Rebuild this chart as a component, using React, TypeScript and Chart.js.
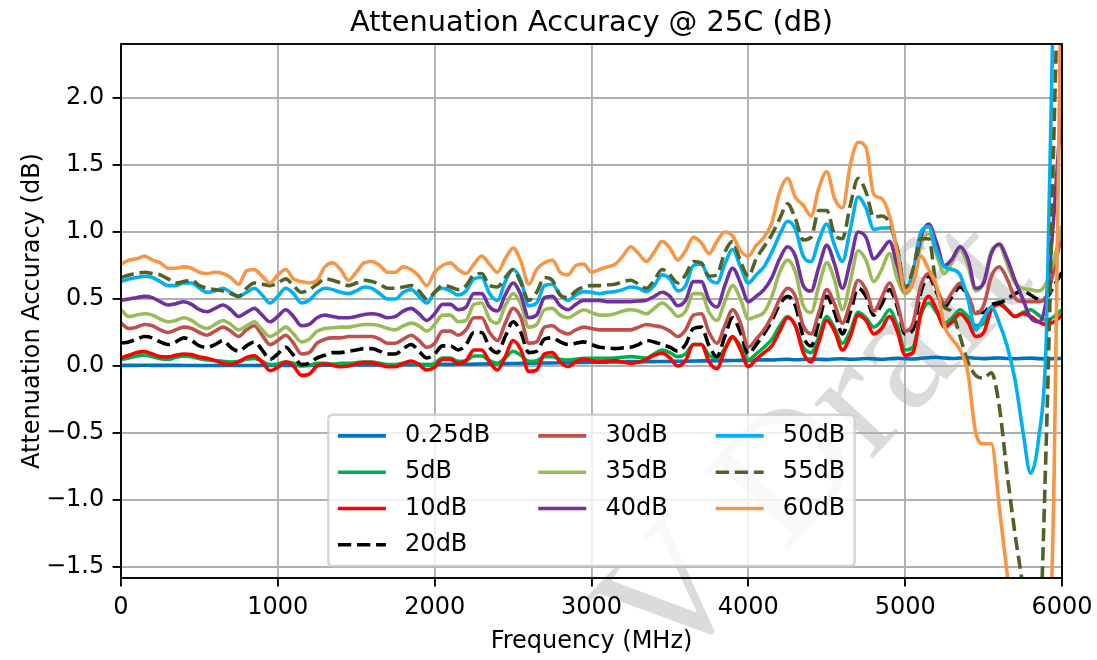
import React, { useEffect, useRef } from 'react';
import { Chart, registerables } from 'chart.js';

Chart.register(...registerables);

const frequencyMHz = [
  0, 50, 100, 150, 200, 250, 300, 350, 400, 450,
  500, 550, 600, 650, 700, 750, 800, 850, 900, 950,
  1000, 1050, 1100, 1150, 1200, 1250, 1300, 1350, 1400, 1450,
  1500, 1550, 1600, 1650, 1700, 1750, 1800, 1850, 1900, 1950,
  2000, 2050, 2100, 2150, 2200, 2250, 2300, 2350, 2400, 2450,
  2500, 2550, 2600, 2650, 2700, 2750, 2800, 2850, 2900, 2950,
  3000, 3050, 3100, 3150, 3200, 3250, 3300, 3350, 3400, 3450,
  3500, 3550, 3600, 3650, 3700, 3750, 3800, 3850, 3900, 3950,
  4000, 4050, 4100, 4150, 4200, 4250, 4300, 4350, 4400, 4450,
  4500, 4550, 4600, 4650, 4700, 4750, 4800, 4850, 4900, 4950,
  5000, 5050, 5100, 5150, 5200, 5250, 5300, 5350, 5400, 5450,
  5500, 5550, 5600, 5650, 5700, 5750, 5800, 5850, 5900, 5950,
  6000,
];

const acc_0p25dB = [
  0.005, 0.005, 0.005, 0.006, 0.005, 0.005, 0.005, 0.005, 0.004, 0.004,
  0.004, 0.004, 0.004, 0.004, 0.004, 0.004, 0.004, 0.004, 0.005, 0.005,
  0.005, 0.005, 0.005, 0.005, 0.005, 0.006, 0.006, 0.006, 0.007, 0.007,
  0.007, 0.008, 0.008, 0.008, 0.009, 0.009, 0.01, 0.01, 0.01, 0.011,
  0.011, 0.012, 0.012, 0.013, 0.013, 0.014, 0.015, 0.016, 0.017, 0.018,
  0.019, 0.02, 0.021, 0.022, 0.022, 0.023, 0.024, 0.025, 0.026, 0.027,
  0.028, 0.028, 0.029, 0.03, 0.03, 0.031, 0.031, 0.032, 0.033, 0.034,
  0.034, 0.035, 0.036, 0.037, 0.038, 0.038, 0.039, 0.04, 0.041, 0.042,
  0.042, 0.044, 0.046, 0.045, 0.048, 0.05, 0.047, 0.049, 0.052, 0.05,
  0.048, 0.052, 0.054, 0.05, 0.052, 0.056, 0.053, 0.05, 0.054, 0.057,
  0.055, 0.052, 0.058, 0.062, 0.065, 0.06, 0.056, 0.06, 0.063, 0.058,
  0.055, 0.058, 0.06, 0.056, 0.054, 0.057, 0.059, 0.055, 0.053, 0.055,
  0.056,
];

const acc_5dB = [
  0.05, 0.06, 0.075, 0.08, 0.07, 0.055, 0.05, 0.065, 0.075, 0.07,
  0.055, 0.045, 0.04, 0.035, 0.03, 0.035, 0.05, 0.057, 0.035, 0.01,
  0.015, 0.03, 0.02, 0.0, 0.005, 0.02, 0.02, 0.015, 0.02, 0.02,
  0.025, 0.03, 0.03, 0.02, 0.01, 0.01, 0.02, 0.03, 0.015, 0.005,
  0.02, 0.06, 0.06, 0.035, 0.04, 0.075, 0.075, 0.04, 0.02, 0.06,
  0.11, 0.08, 0.035, 0.04, 0.07, 0.07, 0.05, 0.045, 0.05, 0.057,
  0.057, 0.057, 0.057, 0.06, 0.065, 0.07, 0.065, 0.06, 0.09, 0.12,
  0.1, 0.07, 0.09, 0.16, 0.16, 0.08, 0.06, 0.13, 0.21, 0.15,
  0.045, 0.09, 0.14, 0.2, 0.3, 0.37, 0.3, 0.14, 0.1, 0.22,
  0.37, 0.28, 0.17, 0.26, 0.4, 0.36, 0.29, 0.34, 0.42, 0.3,
  0.12, 0.14, 0.38, 0.47, 0.4, 0.32, 0.36, 0.42, 0.37, 0.3,
  0.32, 0.44, 0.48, 0.42, 0.37, 0.4, 0.42, 0.38, 0.34, 0.37,
  0.42,
];

const acc_10dB = [
  0.06, 0.08, 0.1, 0.107, 0.09, 0.07, 0.068, 0.08, 0.09, 0.085,
  0.068, 0.057, 0.04, 0.02, 0.01, 0.03, 0.065, 0.077, 0.03, -0.035,
  -0.01, 0.03, 0.0, -0.07, -0.06, 0.0, 0.015, 0.005, -0.005, 0.0,
  0.015, 0.027, 0.025, 0.01, -0.005, -0.005, 0.02, 0.037, 0.01, -0.03,
  -0.01, 0.05, 0.05, 0.02, 0.04, 0.12, 0.12, 0.03, -0.03, 0.07,
  0.19, 0.12, -0.04, -0.03, 0.09, 0.1, 0.03, -0.005, 0.03, 0.05,
  0.04, 0.03, 0.035, 0.04, 0.03, 0.02, 0.03, 0.05, 0.08, 0.095,
  0.06, 0.0, 0.04, 0.16, 0.16, 0.03, -0.02, 0.12, 0.22, 0.12,
  -0.005, 0.05, 0.1, 0.15, 0.26, 0.36, 0.3, 0.1, 0.03, 0.18,
  0.34, 0.26, 0.12, 0.22, 0.38, 0.34, 0.24, 0.28, 0.37, 0.26,
  0.08, 0.1, 0.4, 0.52, 0.42, 0.29, 0.33, 0.39, 0.33, 0.22,
  0.25, 0.42, 0.46, 0.42, 0.37, 0.39, 0.37, 0.33, 0.31, 0.33,
  0.38,
];

const acc_20dB = [
  0.17, 0.18, 0.2, 0.22, 0.21, 0.18, 0.16, 0.18, 0.21, 0.19,
  0.15, 0.14, 0.16, 0.19, 0.14, 0.11, 0.15, 0.18, 0.12, 0.05,
  0.09, 0.14, 0.08, 0.01, 0.02, 0.06, 0.08, 0.1, 0.1, 0.11,
  0.12, 0.13, 0.13, 0.11, 0.09, 0.09, 0.13, 0.16, 0.11, 0.06,
  0.09, 0.15, 0.15, 0.12, 0.16, 0.25, 0.25, 0.14, 0.1, 0.22,
  0.33, 0.25, 0.1, 0.11, 0.2, 0.21, 0.18, 0.16, 0.17, 0.18,
  0.16, 0.14, 0.135, 0.13, 0.135, 0.14, 0.16, 0.19, 0.18, 0.16,
  0.14, 0.11, 0.16, 0.28, 0.29, 0.15, 0.07, 0.22, 0.36, 0.25,
  0.09, 0.16, 0.24, 0.34, 0.46, 0.52, 0.45, 0.22, 0.15, 0.33,
  0.52, 0.4, 0.24, 0.4, 0.58, 0.52, 0.38, 0.46, 0.57, 0.44,
  0.24, 0.27, 0.55, 0.67, 0.55, 0.44, 0.52, 0.59, 0.52, 0.4,
  0.4, 0.46, 0.47, 0.5, 0.54, 0.56, 0.53, 0.5, 0.51, 0.6,
  0.7,
];

const acc_30dB = [
  0.32, 0.28, 0.29, 0.31, 0.3, 0.27, 0.25, 0.27, 0.29, 0.28,
  0.25, 0.23, 0.26, 0.29, 0.26, 0.22, 0.27, 0.3, 0.23, 0.16,
  0.19, 0.23, 0.17, 0.09, 0.1, 0.17, 0.2, 0.21, 0.21, 0.22,
  0.22, 0.22, 0.22, 0.2, 0.17, 0.17, 0.2, 0.23, 0.19, 0.14,
  0.17, 0.26, 0.26, 0.23, 0.27, 0.36, 0.36, 0.25, 0.19, 0.32,
  0.43, 0.36, 0.17, 0.18, 0.29, 0.3, 0.26, 0.24, 0.27, 0.29,
  0.28, 0.27, 0.27, 0.27, 0.27, 0.27, 0.29, 0.31, 0.3, 0.29,
  0.26, 0.22, 0.27, 0.38, 0.39, 0.25, 0.17, 0.3, 0.42, 0.32,
  0.14, 0.2, 0.27, 0.37, 0.5, 0.58, 0.52, 0.3, 0.24, 0.4,
  0.57, 0.46, 0.32, 0.47, 0.64, 0.57, 0.41, 0.51, 0.62, 0.47,
  0.26, 0.32, 0.6, 0.69, 0.58, 0.47, 0.55, 0.62, 0.53, 0.39,
  0.45, 0.67, 0.74, 0.65, 0.51, 0.48, 0.48, 0.48, 0.52, 0.72,
  1.0,
];

const acc_35dB = [
  0.42, 0.37, 0.38, 0.39, 0.38, 0.35, 0.33, 0.34, 0.36, 0.34,
  0.3, 0.28, 0.31, 0.34, 0.31, 0.27, 0.3, 0.33, 0.27, 0.22,
  0.25, 0.29, 0.24, 0.18, 0.2, 0.26, 0.28, 0.285, 0.29, 0.29,
  0.3, 0.31, 0.31, 0.3, 0.28, 0.27, 0.3, 0.32, 0.3, 0.26,
  0.31, 0.38, 0.38, 0.33, 0.34, 0.46, 0.47, 0.35, 0.32, 0.45,
  0.54, 0.46, 0.29, 0.31, 0.42, 0.43, 0.38, 0.36, 0.39, 0.42,
  0.4, 0.38, 0.38, 0.39, 0.41, 0.42, 0.41, 0.39, 0.43, 0.47,
  0.43, 0.37, 0.41, 0.54, 0.54, 0.4, 0.34, 0.48, 0.6, 0.5,
  0.35, 0.37, 0.4, 0.52, 0.7, 0.79, 0.7, 0.45, 0.4, 0.6,
  0.77, 0.64, 0.42, 0.63, 0.86, 0.79, 0.63, 0.72, 0.84, 0.65,
  0.54, 0.62, 0.9, 0.99, 0.83, 0.69, 0.78, 0.87, 0.75, 0.56,
  0.62, 0.86, 0.9, 0.76, 0.62, 0.58, 0.57, 0.56, 0.62, 0.8,
  1.05,
];

const acc_40dB = [
  0.49, 0.5, 0.51, 0.52, 0.51, 0.48, 0.455, 0.465, 0.48, 0.46,
  0.42, 0.405, 0.43, 0.455, 0.42, 0.37, 0.4, 0.43, 0.38, 0.33,
  0.37, 0.42, 0.37, 0.3, 0.31, 0.36, 0.38, 0.37, 0.36, 0.36,
  0.37, 0.385, 0.39, 0.38, 0.36, 0.37, 0.41, 0.43, 0.39, 0.34,
  0.39, 0.46, 0.46, 0.42, 0.44, 0.54, 0.54, 0.44, 0.41, 0.53,
  0.62, 0.53, 0.36, 0.38, 0.51, 0.52, 0.45, 0.42, 0.46, 0.49,
  0.49, 0.49, 0.48, 0.48, 0.48, 0.48, 0.485, 0.49, 0.52, 0.55,
  0.52, 0.45, 0.49, 0.63, 0.63, 0.49, 0.44, 0.6, 0.73, 0.62,
  0.48, 0.52, 0.57, 0.66, 0.8, 0.89, 0.82, 0.6, 0.56, 0.74,
  0.9, 0.76, 0.58, 0.78, 1.0, 0.96, 0.8, 0.86, 0.93, 0.75,
  0.56, 0.66, 0.96, 1.06, 0.92, 0.75, 0.8, 0.89, 0.8, 0.58,
  0.62, 0.84, 0.91, 0.8, 0.64, 0.5, 0.36, 0.33, 0.5, 1.15,
  2.0,
];

const acc_50dB = [
  0.63, 0.65, 0.66, 0.67, 0.66, 0.63, 0.6, 0.6, 0.62, 0.62,
  0.58, 0.55, 0.56, 0.58, 0.55, 0.52, 0.55, 0.58, 0.53, 0.47,
  0.52, 0.58, 0.54, 0.47, 0.49, 0.55, 0.58, 0.57, 0.55, 0.54,
  0.56, 0.59, 0.58, 0.54, 0.5, 0.5, 0.55, 0.57, 0.52, 0.47,
  0.55, 0.58, 0.56, 0.53, 0.56, 0.65, 0.66, 0.54, 0.49, 0.63,
  0.72, 0.64, 0.45, 0.47, 0.6, 0.61, 0.53, 0.49, 0.53, 0.555,
  0.55, 0.54, 0.55, 0.555, 0.57, 0.59, 0.58, 0.555, 0.6, 0.68,
  0.65, 0.56, 0.6, 0.75, 0.76, 0.65, 0.62, 0.76, 0.87, 0.74,
  0.62, 0.68, 0.74, 0.85, 0.98, 1.08, 1.02, 0.82, 0.78, 0.94,
  1.06, 0.9, 0.78, 1.02, 1.26, 1.18, 1.02, 1.03, 1.03, 0.87,
  0.58, 0.7, 1.0, 1.04, 0.86, 0.74, 0.72, 0.68, 0.5, 0.27,
  0.36, 0.44, 0.32, 0.15, -0.1, -0.48, -0.8, -0.55, 0.2, 3.0,
  4.0,
];

const acc_55dB = [
  0.66, 0.68, 0.69, 0.7, 0.69, 0.68, 0.65, 0.62, 0.63, 0.64,
  0.6, 0.58, 0.57, 0.56, 0.54, 0.52, 0.58, 0.62, 0.61, 0.6,
  0.62, 0.65, 0.6, 0.55, 0.57, 0.61, 0.65, 0.64, 0.62, 0.6,
  0.62, 0.64, 0.63, 0.61, 0.58, 0.58, 0.59, 0.6, 0.56, 0.5,
  0.55, 0.6, 0.59, 0.57, 0.6, 0.68, 0.69, 0.6, 0.59, 0.66,
  0.72, 0.62, 0.49, 0.55, 0.66, 0.64, 0.53, 0.51, 0.56, 0.59,
  0.6, 0.6, 0.605, 0.61, 0.63, 0.64, 0.61, 0.58, 0.64, 0.72,
  0.68, 0.62, 0.68, 0.78, 0.77, 0.67, 0.68, 0.85, 0.93, 0.78,
  0.67, 0.8, 0.89, 0.98, 1.1, 1.21, 1.1, 0.94, 0.96, 1.16,
  1.16, 0.98, 0.95, 1.2, 1.4, 1.3, 1.11, 1.12, 1.07, 0.88,
  0.58, 0.72, 0.95, 0.95, 0.58, 0.44, 0.4, 0.22, 0.03, -0.07,
  -0.09, -0.05, -0.3, -0.8, -1.25, -1.65, -2.2, -2.1, -0.55, 1.8,
  4.0,
];

const acc_60dB = [
  0.76, 0.79, 0.8, 0.82, 0.79, 0.77, 0.73, 0.73, 0.74, 0.73,
  0.7, 0.69, 0.7, 0.69, 0.66, 0.61, 0.71, 0.72, 0.67, 0.62,
  0.68, 0.72, 0.65, 0.63, 0.62, 0.64, 0.74, 0.77, 0.72, 0.64,
  0.7, 0.77, 0.78, 0.75, 0.7, 0.7, 0.74, 0.72, 0.67, 0.6,
  0.7, 0.75, 0.77, 0.72, 0.69, 0.76, 0.82, 0.76, 0.7, 0.8,
  0.88, 0.78, 0.61, 0.72, 0.77, 0.79, 0.7, 0.68, 0.75, 0.76,
  0.7, 0.72, 0.74, 0.76, 0.82, 0.89, 0.84, 0.78, 0.85, 0.93,
  0.88, 0.79, 0.86, 0.96, 0.92, 0.84, 0.93, 1.0, 0.97, 0.86,
  0.82, 0.9, 0.96, 1.07, 1.3, 1.4, 1.26, 1.2, 1.12, 1.33,
  1.45, 1.25, 1.18, 1.5, 1.67, 1.63, 1.28, 1.25, 1.12, 0.85,
  0.56, 0.62, 0.82, 0.72, 0.6, 0.3, 0.2, 0.12, -0.05, -0.5,
  -0.58, -0.58, -1.05, -1.55, -2.0, -2.5, -2.8, -2.8, -2.6, -0.8,
  3.5,
];

const seriesLabels = ['0.25dB', '5dB', '10dB', '20dB', '30dB', '35dB', '40dB', '50dB', '55dB', '60dB'];
const seriesValues = [acc_0p25dB, acc_5dB, acc_10dB, acc_20dB, acc_30dB, acc_35dB, acc_40dB, acc_50dB, acc_55dB, acc_60dB];
const seriesColors = ['#0070C0', '#00B050', '#FF0000', '#000000', '#C0504D', '#9BBB59', '#7030A0', '#00B0F0', '#4F6228', '#F79646'];
const seriesDashed = [false, false, false, true, false, false, false, false, true, false];

const xTicks = [0, 1000, 2000, 3000, 4000, 5000, 6000];
const yTicks = [-1.5, -1.0, -0.5, 0.0, 0.5, 1.0, 1.5, 2.0];

const TITLE = 'Attenuation Accuracy @ 25C (dB)';
const FONT = 'DejaVu Sans';
const LW = 3.6;
const DASH = [13.3, 5.8];

const watermarkPlugin = {
  id: 'watermark',
  beforeDraw(chart: any) {
    const ctx = chart.ctx;
    ctx.save();
    ctx.fillStyle = '#ffffff';
    ctx.fillRect(0, 0, chart.width, chart.height);
    ctx.translate(668, 678);
    ctx.rotate(-47 * Math.PI / 180);
    ctx.font = '175px "Liberation Serif"';
    ctx.fillStyle = 'rgba(0,0,0,0.14)';
    ctx.textBaseline = 'alphabetic';
    ctx.textAlign = 'left';
    ctx.fillText('V Draft', 0, 0);
    ctx.restore();
  },
};

const titlePlugin = {
  id: 'mplTitle',
  afterDraw(chart: any) {
    const { ctx, chartArea: a } = chart;
    ctx.save();
    ctx.font = `28.8px "${FONT}"`;
    ctx.fillStyle = '#000';
    ctx.textAlign = 'center';
    ctx.textBaseline = 'alphabetic';
    ctx.fillText(TITLE, (a.left + a.right) / 2, a.top - 13.5);
    ctx.restore();
  },
};

const framePlugin = {
  id: 'frame',
  afterDatasetsDraw(chart: any) {
    const { ctx, chartArea: a } = chart;
    ctx.save();
    ctx.strokeStyle = '#000';
    ctx.lineWidth = 1.9;
    ctx.strokeRect(a.left, a.top, a.right - a.left, a.bottom - a.top);
    ctx.restore();
  },
};

const legendPlugin = {
  id: 'mplLegend',
  afterDraw(chart: any) {
    const { ctx, chartArea: a } = chart;
    const fs = 24;
    ctx.save();
    ctx.font = `${fs}px "${FONT}"`;
    const cols = [[0, 1, 2, 3], [4, 5, 6], [7, 8, 9]];
    const handleLen = 2.0 * fs;
    const textPad = 0.8 * fs;
    const colSpace = 2.0 * fs;
    const borderPad = 0.4 * fs;
    const rowPitch = 36.3;
    const rowH = 23.2;
    const colWidths = cols.map((c) => handleLen + textPad + Math.max(...c.map((i) => ctx.measureText(seriesLabels[i]).width)));
    const width = colWidths.reduce((s, w) => s + w, 0) + colSpace * (cols.length - 1) + 2 * borderPad;
    const height = 2 * borderPad + rowH + rowPitch * 3;
    const left = (a.left + a.right) / 2 - width / 2;
    const bottom = a.bottom - 0.5 * fs;
    const top = bottom - height;
    const r = 4.8;
    ctx.beginPath();
    ctx.moveTo(left + r, top);
    ctx.lineTo(left + width - r, top);
    ctx.quadraticCurveTo(left + width, top, left + width, top + r);
    ctx.lineTo(left + width, bottom - r);
    ctx.quadraticCurveTo(left + width, bottom, left + width - r, bottom);
    ctx.lineTo(left + r, bottom);
    ctx.quadraticCurveTo(left, bottom, left, bottom - r);
    ctx.lineTo(left, top + r);
    ctx.quadraticCurveTo(left, top, left + r, top);
    ctx.closePath();
    ctx.fillStyle = 'rgba(255,255,255,0.8)';
    ctx.fill();
    ctx.strokeStyle = 'rgba(204,204,204,0.8)';
    ctx.lineWidth = 2.4;
    ctx.stroke();
    let x = left + borderPad;
    cols.forEach((c, ci) => {
      c.forEach((i, ri) => {
        const cy = top + borderPad + rowH / 2 + ri * rowPitch;
        ctx.beginPath();
        ctx.strokeStyle = seriesColors[i];
        ctx.lineWidth = LW;
        ctx.setLineDash(seriesDashed[i] ? DASH : []);
        ctx.moveTo(x, cy);
        ctx.lineTo(x + handleLen, cy);
        ctx.stroke();
        ctx.setLineDash([]);
        ctx.fillStyle = '#000';
        ctx.textBaseline = 'middle';
        ctx.textAlign = 'left';
        ctx.fillText(seriesLabels[i], x + handleLen + textPad, cy);
      });
      x += colWidths[ci] + colSpace;
    });
    ctx.restore();
  },
};

function fmtY(v: number) {
  const s = Math.abs(v).toFixed(1);
  return v < -1e-9 ? '\u2212' + s : s;
}

export default function App() {
  const ref = useRef<HTMLCanvasElement | null>(null);
  useEffect(() => {
    if (!ref.current) return;
    const datasets = seriesValues.map((vals, si) => ({
      label: seriesLabels[si],
      data: vals.map((v, i) => ({ x: frequencyMHz[i], y: v })),
      borderColor: seriesColors[si],
      backgroundColor: seriesColors[si],
      borderWidth: LW,
      borderDash: seriesDashed[si] ? DASH : [],
      pointRadius: 0,
      pointHoverRadius: 0,
      cubicInterpolationMode: 'monotone' as const,
      borderJoinStyle: 'round' as const,
      fill: false,
      order: seriesValues.length - si,
    }));
    const chart = new Chart(ref.current, {
      type: 'line',
      data: { datasets },
      options: {
        animation: false,
        responsive: false,
        devicePixelRatio: 1,
        layout: { padding: { left: 0, right: 35, top: 44, bottom: 0 } },
        plugins: {
          legend: { display: false },
          tooltip: { enabled: false },
          title: { display: false },
        },
        scales: {
          x: {
            type: 'linear',
            min: 0,
            max: 6000,
            afterFit: (s: any) => { s.height = 82; s.paddingLeft = 0; s.paddingRight = 0; },
            afterBuildTicks: (s: any) => { s.ticks = xTicks.map((v) => ({ value: v })); },
            border: { display: false },
            grid: { color: '#b0b0b0', lineWidth: 1.9, tickColor: '#000', tickWidth: 1.9, tickLength: 8.4, drawTicks: true },
            ticks: {
              color: '#000',
              font: { family: FONT, size: 24 },
              padding: 7,
              maxRotation: 0,
              autoSkip: false,
              callback: (v: any) => String(v),
            },
            title: {
              display: true,
              text: 'Frequency (MHz)',
              color: '#000',
              font: { family: FONT, size: 24 },
              padding: { top: 0, bottom: 4 },
            },
          },
          y: {
            type: 'linear',
            min: -1.582,
            max: 2.403,
            afterFit: (s: any) => { s.width = 121; s.paddingTop = 0; s.paddingBottom = 0; },
            afterBuildTicks: (s: any) => { s.ticks = yTicks.map((v) => ({ value: v })); },
            border: { display: false },
            grid: { color: '#b0b0b0', lineWidth: 1.9, tickColor: '#000', tickWidth: 1.9, tickLength: 8.4, drawTicks: true },
            ticks: {
              color: '#000',
              font: { family: FONT, size: 24 },
              padding: 8.4,
              autoSkip: false,
              callback: (v: any) => fmtY(Number(v)),
            },
            title: {
              display: true,
              text: 'Attenuation Accuracy (dB)',
              color: '#000',
              font: { family: FONT, size: 24 },
              padding: { top: 18, bottom: 0 },
            },
          },
        },
      },
      plugins: [watermarkPlugin, framePlugin, legendPlugin, titlePlugin],
    });
    return () => chart.destroy();
  }, []);
  return (
    <div style={{ position: 'absolute', left: 0, top: 0, width: 1097, height: 660, background: '#fff' }}>
      <canvas ref={ref} width={1097} height={660} style={{ display: 'block', width: 1097, height: 660 }} />
    </div>
  );
}
